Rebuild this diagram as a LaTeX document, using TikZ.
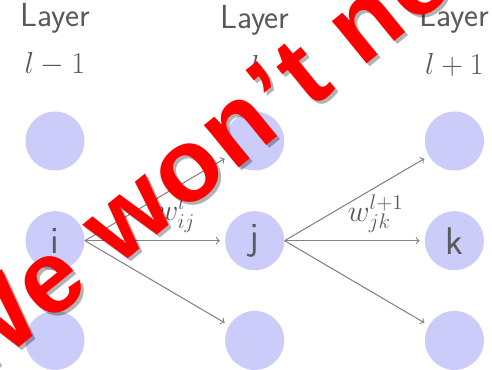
\documentclass[tikz,border=0pt]{standalone}
\usepackage{fontspec}
\newfontfamily\stampfont[LetterSpace=3]{Liberation Sans}
\usepackage{tikz}
\usetikzlibrary{arrows, positioning}
\definecolor{neuronbg}{RGB}{204, 204, 250}
\definecolor{labelgray}{RGB}{90, 90, 90}
\definecolor{edgegray}{RGB}{130, 130, 130}
\tikzstyle{neuron} = [circle, minimum size=1.18cm, inner sep=0pt, fill=neuronbg, text=labelgray, font=\sffamily\fontsize{22}{26}\selectfont]
\tikzstyle{layer} = [align=center, text=labelgray, inner sep=0pt, font=\sffamily\fontsize{19}{27}\selectfont]
\tikzstyle{weight} = [text=labelgray, inner sep=0pt, font=\fontsize{18}{22}\selectfont]
\tikzstyle{arrow} = [->, >=to, line width=0.6pt, color=edgegray, shorten >=0.1cm]
\tikzstyle{stamp} = [rotate=39.2, anchor=base west, inner sep=0pt, font=\stampfont\bfseries\fontsize{59}{60}\selectfont]

\begin{document}
\begin{tikzpicture}[node distance=0.8cm and 2.8cm]
    \useasboundingbox (0,0) rectangle (9.84,-7.4);
    \clip (0,0) rectangle (9.84,-7.4);

    % Nodes
    \node (a1) [neuron] at (1.1,-2.82) {};
    \node (i) [neuron, below=of a1] {i};
    \node (a3) [neuron, below=of i] {};
    \node (b1) [neuron, right=of a1] {};
    \node (j) [neuron, right=of i] {j};
    \node (b3) [neuron, right=of a3] {};
    \node (c1) [neuron, right=of b1] {};
    \node (k) [neuron, right=of j] {k};
    \node (c3) [neuron, right=of b3] {};

    % Layer titles
    \node (la) [layer, above=0.69cm of a1] {Layer\\$l-1$};
    \node (lb) [layer, above=0.69cm of b1] {Layer\\$l$};
    \node (lc) [layer, above=0.69cm of c1] {Layer\\$l+1$};

    % Arrows
    \draw [arrow] (i.east) -- (b1);
    \draw [arrow] (i.east) -- node[weight, above=0.16cm, pos=0.65] {$w_{ij}^{l}$} (j);
    \draw [arrow] (i.east) -- (b3);
    \draw [arrow] (j.east) -- (c1);
    \draw [arrow] (j.east) -- node[weight, above=0.16cm, pos=0.65] {$w_{jk}^{l+1}$} (k);
    \draw [arrow] (j.east) -- (c3);

    % Stamp
    \node (stampshadow) [stamp, text=black, opacity=0.3] at (-0.52,-7.8) {We won’t need};
    \node (stamp) [stamp, text=red] at (-0.58,-7.74) {We won’t need};
\end{tikzpicture}
\end{document}
